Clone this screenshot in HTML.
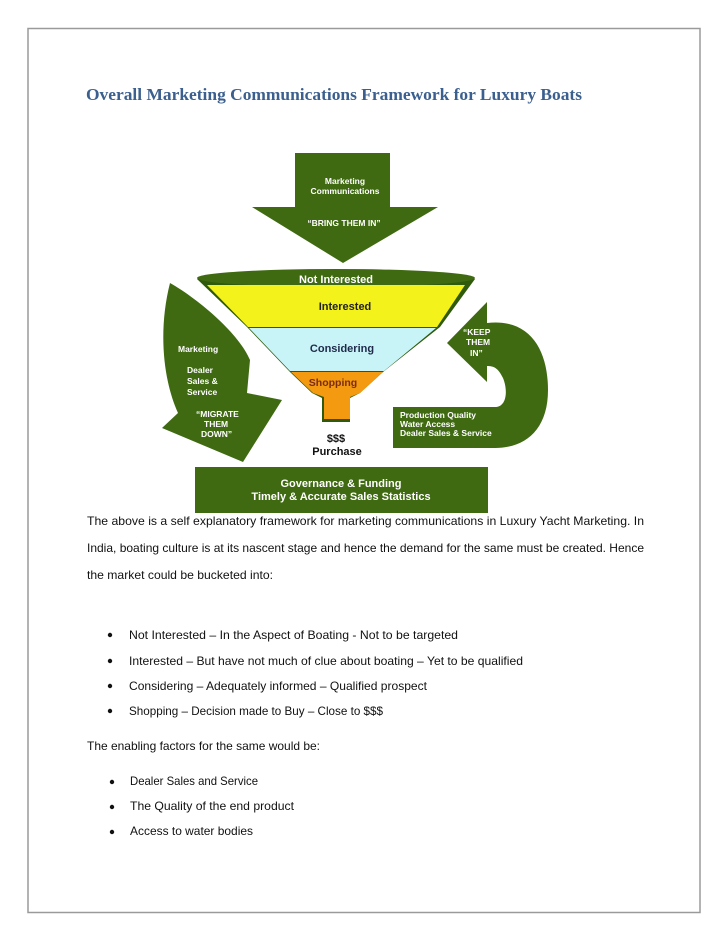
<!DOCTYPE html>
<html><head><meta charset="utf-8"><style>
html,body{margin:0;padding:0;background:#fff}
svg{display:block}
.b{font-family:"Liberation Sans",Arial,sans-serif;font-size:12px;fill:#111}
.d{font-family:"Liberation Sans",Arial,sans-serif;font-weight:bold}
</style></head><body>
<svg width="728" height="942" viewBox="0 0 728 942" xmlns="http://www.w3.org/2000/svg">
<rect x="28" y="28.5" width="672" height="884" fill="none" stroke="#9a9a9a" stroke-width="1.5"/>
<text x="86" y="100" textLength="496" lengthAdjust="spacingAndGlyphs" font-family="Liberation Serif,serif" font-weight="bold" font-size="16.5" fill="#3b5f8e">Overall Marketing Communications Framework for Luxury Boats</text>

<!-- top arrow -->
<path d="M295,153 L390,153 L390,207 L438,207 L343,263 L252,207 L295,207 Z" fill="#3f6a12"/>
<g class="d" fill="#fff" font-size="8.5" text-anchor="middle">
<text x="345" y="184">Marketing</text>
<text x="345" y="194">Communications</text>
<text x="344" y="226">“BRING THEM IN”</text>
</g>

<!-- left arrow -->
<path d="M170,283 C200,300 240,335 250,360 L247,393 L282,400 L243,462 L162,428 L178,413 C163,380 158,330 170,283 Z" fill="#3f6a12"/>
<g class="d" fill="#fff" font-size="8.5">
<text x="178" y="352">Marketing</text>
<text x="187" y="373">Dealer</text>
<text x="187" y="384">Sales &amp;</text>
<text x="187" y="395">Service</text>
<text x="196" y="417">“MIGRATE</text>
<text x="204" y="427">THEM</text>
<text x="201" y="437">DOWN”</text>
</g>

<!-- right arrow -->
<path d="M447,343 L487,302 L487,323 C530,318 548,350 548,390 C548,430 525,448 495,448 L393,448 L393,407 L495,407 C507,407 508,390 503,378 C498,368 494,366 487,366 L487,382 Z" fill="#3f6a12"/>
<g class="d" fill="#fff" font-size="8.5">
<text x="463" y="335">“KEEP</text>
<text x="466" y="345">THEM</text>
<text x="470" y="356">IN”</text>
<text x="400" y="418">Production Quality</text>
<text x="400" y="427">Water Access</text>
<text x="400" y="436">Dealer Sales &amp; Service</text>
</g>

<!-- funnel -->
<path d="M197,279 L247,327 L290,372 L312,393 L322,398 L322,422 L350,422 L350,398 L360,393 L383,372 L440,327 L475,279 Z" fill="#2f5a0c"/>
<ellipse cx="336" cy="278" rx="139" ry="9" fill="#3f6a12"/>
<path d="M207,285 L465,285 L437,327 L248,327 Z" fill="#f3f21a"/>
<path d="M249,328 L436,328 L384,371 L290,371 Z" fill="#c9f4f7"/>
<path d="M291,372 L383,372 L360,393 L350,397 L350,419 L324,419 L324,397 L313,393 Z" fill="#f39a11"/>
<g class="d" text-anchor="middle" font-size="11">
<text x="336" y="283" fill="#fff">Not Interested</text>
<text x="345" y="310" fill="#222">Interested</text>
<text x="342" y="352" fill="#1f2a4a">Considering</text>
<text x="333" y="386" fill="#7a2b10" font-size="10.5">Shopping</text>
<text x="336" y="442" fill="#111">$$$</text>
<text x="337" y="455" fill="#111">Purchase</text>
</g>

<!-- bottom box -->
<rect x="195" y="467" width="293" height="46" fill="#3f6a12"/>
<g class="d" fill="#fff" font-size="11" text-anchor="middle">
<text x="341" y="487">Governance &amp; Funding</text>
<text x="341" y="500">Timely &amp; Accurate Sales Statistics</text>
</g>

<!-- body text -->
<text class="b" x="87" y="525" textLength="557" lengthAdjust="spacingAndGlyphs">The above is a self explanatory framework for marketing communications in Luxury Yacht Marketing. In</text>
<text class="b" x="87" y="552" textLength="557" lengthAdjust="spacingAndGlyphs">India, boating culture is at its nascent stage and hence the demand for the same must be created. Hence</text>
<text class="b" x="87" y="579" textLength="186" lengthAdjust="spacingAndGlyphs">the market could be bucketed into:</text>

<g fill="#111">
<circle cx="110" cy="635" r="2.2"/><circle cx="110" cy="661" r="2.2"/><circle cx="110" cy="686" r="2.2"/><circle cx="110" cy="711" r="2.2"/>
<circle cx="112" cy="782" r="2.2"/><circle cx="112" cy="807" r="2.2"/><circle cx="112" cy="832" r="2.2"/>
</g>
<text class="b" x="129" y="639" textLength="329" lengthAdjust="spacingAndGlyphs">Not Interested – In the Aspect of Boating  - Not to be targeted</text>
<text class="b" x="129" y="665" textLength="394" lengthAdjust="spacingAndGlyphs">Interested – But have not much of clue about boating – Yet to be qualified</text>
<text class="b" x="129" y="690" textLength="298" lengthAdjust="spacingAndGlyphs">Considering – Adequately informed – Qualified prospect</text>
<text class="b" x="129" y="715" textLength="254" lengthAdjust="spacingAndGlyphs">Shopping – Decision made to Buy – Close to $$$</text>
<text class="b" x="87" y="750" textLength="233" lengthAdjust="spacingAndGlyphs">The enabling factors for the same would be:</text>
<text class="b" x="130" y="785" textLength="128" lengthAdjust="spacingAndGlyphs">Dealer Sales and Service</text>
<text class="b" x="130" y="810" textLength="164" lengthAdjust="spacingAndGlyphs">The Quality of the end product</text>
<text class="b" x="130" y="835" textLength="123" lengthAdjust="spacingAndGlyphs">Access to water bodies</text>
</svg>
</body></html>
